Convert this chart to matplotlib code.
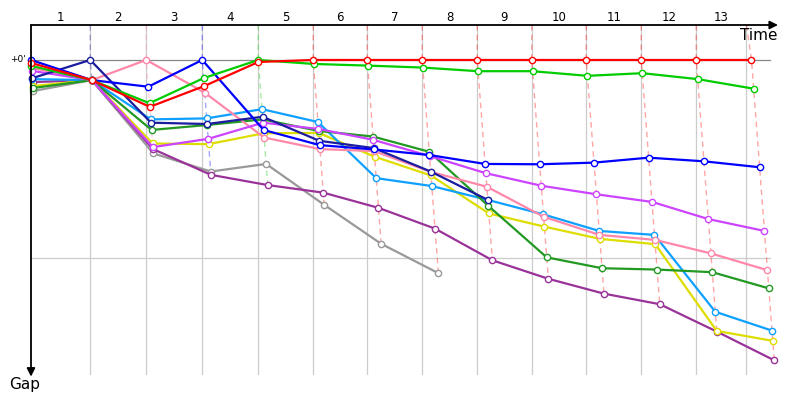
import matplotlib.pyplot as plt

# leader's race time at the end of each lap (s), lap 0 = start
lead_t = [0, 237, 461, 685, 909, 1129, 1345, 1565, 1785, 2003, 2221, 2441, 2661, 2882]
# lap marks drawn as grey verticals
grid_t = [0, 237, 461, 685, 909, 1129, 1345, 1565, 1785, 2003, 2221, 2441, 2661, 2862]
lap_labels = ['1', '2', '3', '4', '5', '6', '7', '8', '9', '10', '11', '12', '13']

# gap to leader (s) at the end of each lap
red = [0.9, 6.1, 14.2, 7.9, 0.6, 0, 0, 0, 0, 0, 0, 0, 0, 0]
green = [1.8, 6.1, 13.1, 5.5, 0, 1.2, 1.7, 2.3, 3.4, 3.4, 4.8, 4.0, 5.8, 8.7]
blue = [0, 6.1, 8.1, 0, 21.2, 25.8, 27.1, 28.8, 31.5, 31.6, 31.1, 29.6, 30.7, 32.5]
navy = [5.5, 0, 19.0, 19.4, 17.2, 24.5, 26.7, 33.8, 42.4]
cyan = [5.8, 6.1, 18.0, 17.7, 14.9, 18.8, 35.8, 38.2, 42.4, 46.8, 51.8, 53.0, 76.3, 82.0]
magenta = [3.3, 6.1, 26.4, 23.9, 19.0, 20.9, 24.2, 29.1, 34.3, 38.1, 40.7, 43.0, 48.2, 51.8]
pink = [2.4, 6.1, 0, 9.9, 23.5, 27.0, 27.6, 33.9, 38.4, 47.5, 53.0, 54.5, 58.6, 63.7]
dkgreen = [8.5, 6.1, 21.2, 19.7, 18.0, 21.5, 23.2, 27.8, 44.2, 59.8, 63.1, 63.5, 64.3, 69.2]
yellow = [7.9, 6.1, 25.3, 25.5, 22.2, 22.1, 29.3, 35.0, 46.5, 50.5, 54.2, 55.8, 82.1, 85.1]
gray = [9.4, 6.1, 28.3, 33.8, 31.5, 43.9, 55.7, 64.6]
purple = [6.7, 6.1, 27.0, 34.8, 37.9, 40.2, 44.8, 51.1, 60.7, 66.3, 70.8, 74.0, 82.3, 91.0]

series = [gray, purple, yellow, cyan, dkgreen, pink, magenta, navy, blue, green, red]
colors = ['#999999', '#993399', '#dddd00', '#0fa0ff', '#229922', '#ff88aa',
          '#cc44ff', '#1c1ca0', '#0000ff', '#00cc00', '#ff0000']

ytop = -10.6
ybot = 95.45
xend = 2988

fig = plt.figure(figsize=(8, 4), dpi=100)
ax = fig.add_axes([31/800, 25/400, 747/800, 350/400])
ax.set_xlim(0, xend)
ax.set_ylim(ybot, ytop)
ax.axis('off')

# grid
for t in grid_t[1:]:
    ax.plot([t, t], [ybot, ytop], color='#cccccc', lw=0.9, zorder=1)
ax.plot([0, 2956], [60, 60], color='#cccccc', lw=0.9, zorder=1)
ax.plot([0, 2956], [0, 0], color='#888888', lw=0.9, zorder=1)

# lap lines: through every car's crossing of that lap, coloured by the leader
for lap in range(1, 14):
    pts = []
    lead_col = None
    for s, c in zip(series, colors):
        if lap < len(s):
            pts.append((s[lap], lead_t[lap] + s[lap]))
            if s[lap] == 0:
                lead_col = c
    pts.sort()
    xs = [grid_t[lap]] + [p[1] for p in pts]
    ys = [ytop] + [p[0] for p in pts]
    ax.plot(xs, ys, color=lead_col, alpha=0.35, lw=1.0, ls=(0, (4, 3)), zorder=2)

for s, c in zip(series, colors):
    xs = [lead_t[i] + g for i, g in enumerate(s)]
    ax.plot(xs, s, color=c, lw=1.6, marker='o', ms=4.5, mfc='white', mec=c, mew=1.0,
            zorder=3, clip_on=False)

# axes arrows
ax.annotate('', xy=(xend, ytop), xytext=(0, ytop), annotation_clip=False,
            arrowprops=dict(arrowstyle='-|>', color='black', lw=1.3, mutation_scale=12,
                            shrinkA=0, shrinkB=0))
ax.annotate('', xy=(0, ybot + 0.5), xytext=(0, ytop), annotation_clip=False,
            arrowprops=dict(arrowstyle='-|>', color='black', lw=1.3, mutation_scale=12,
                            shrinkA=0, shrinkB=0))

for i in range(1, 14):
    ax.text((grid_t[i-1] + grid_t[i]) / 2, -13.0, lap_labels[i-1], ha='center', va='center',
            fontsize=8.5, clip_on=False)

ax.text(-20, 0, "+0'", ha='right', va='center', fontsize=6.5, clip_on=False)
fig.text(777/800, 1 - 35/400, 'Time', ha='right', va='center', fontsize=11)
fig.text(25/800, 1 - 385/400, 'Gap', ha='center', va='center', fontsize=11)

plt.savefig('out.png')
